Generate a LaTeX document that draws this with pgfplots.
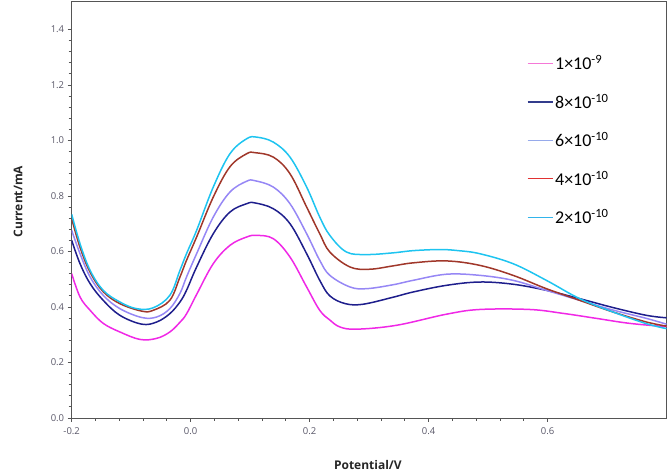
\documentclass[border=0pt]{standalone}
\usepackage{pgfplots}
\pgfplotsset{compat=1.18}
\usepackage{fontspec}
\setmainfont{Open Sans}
\newfontfamily\legfont{Carlito}
\definecolor{cMag}{RGB}{240,40,230}
\definecolor{cNavy}{RGB}{30,30,140}
\definecolor{cPur}{RGB}{150,135,245}
\definecolor{cBrn}{RGB}{160,55,42}
\definecolor{cCyan}{RGB}{30,196,240}
\definecolor{lMag}{RGB}{245,120,215}
\definecolor{lNavy}{RGB}{50,60,140}
\definecolor{lPur}{RGB}{150,170,235}
\definecolor{lBrn}{RGB}{225,50,50}
\definecolor{lCyan}{RGB}{50,180,235}
\definecolor{axgray}{RGB}{85,85,85}
\definecolor{tkgray}{RGB}{90,88,105}
\begin{document}
\begin{tikzpicture}
\begin{axis}[
  scale only axis,
  width=594.8pt, height=416.3pt,
  xmin=-0.2, xmax=0.8, ymin=0, ymax=1.5,
  xtick={-0.2,0,0.2,0.4,0.6},
  ytick={0,0.2,0.4,0.6,0.8,1.0,1.2,1.4},
  minor tick num=4,
  tick align=outside, tick pos=left,
  major tick length=4pt, minor tick length=3pt,
  axis line style={axgray, line width=0.9pt},
  every tick/.style={axgray, line width=0.8pt},
  /pgf/number format/assume math mode=true,
  /pgf/number format/.cd, fixed, fixed zerofill, precision=1, /pgfplots/.cd,
  tick label style={font=\fontsize{9.5}{10}\selectfont, text=tkgray},
  xticklabel style={yshift=-2pt},
  xlabel={\textbf{Potential/V}},
  ylabel={\textbf{Current/mA}},
  xlabel style={at={(axis description cs:0.498,-0.113)}, anchor=center, font=\fontsize{12}{13}\selectfont, text=black!85},
  ylabel style={at={(axis description cs:-0.0903,0.52)}, anchor=center, rotate=0, font=\fontsize{12}{13}\selectfont, text=black!85},
  legend style={at={(axis description cs:0.765,0.876)}, anchor=north west, fill=none, draw=none,
    font=\legfont\fontsize{18}{19}\selectfont, row sep=18.5pt, inner sep=0pt},
  legend cell align=left,
  legend image code/.code={\draw[#1] (0pt,0pt) -- (25pt,0pt);},
  every axis plot/.append style={line width=1.5pt, smooth, tension=0.6},
]
\addlegendimage{color=lMag, line width=1.2pt}
\addlegendimage{color=lNavy, line width=1.2pt}
\addlegendimage{color=lPur, line width=1.2pt}
\addlegendimage{color=lBrn, line width=1.2pt}
\addlegendimage{color=lCyan, line width=1.2pt}
\legend{1×10\textsuperscript{-9},8×10\textsuperscript{-10},6×10\textsuperscript{-10},4×10\textsuperscript{-10},2×10\textsuperscript{-10}}
\addplot[color=cMag, forget plot] coordinates {
(-0.2,0.520) (-0.186,0.436) (-0.169,0.388) (-0.147,0.341) (-0.119,0.310) (-0.085,0.283) (-0.057,0.287) (-0.035,0.310) (-0.018,0.345) (-0.007,0.375) (0.010,0.445) (0.038,0.556) (0.066,0.622) (0.094,0.652) (0.111,0.658) (0.139,0.646) (0.167,0.580) (0.195,0.472) (0.217,0.388) (0.234,0.353) (0.251,0.328) (0.279,0.320) (0.346,0.334) (0.430,0.374) (0.486,0.391) (0.570,0.391) (0.626,0.377) (0.682,0.359) (0.738,0.341) (0.800,0.329)
};
\addplot[color=cNavy, forget plot] coordinates {
(-0.2,0.640) (-0.186,0.556) (-0.169,0.484) (-0.147,0.424) (-0.119,0.370) (-0.082,0.338) (-0.057,0.346) (-0.035,0.376) (-0.018,0.418) (-0.007,0.460) (0.010,0.544) (0.038,0.664) (0.066,0.742) (0.094,0.772) (0.108,0.775) (0.139,0.754) (0.167,0.700) (0.195,0.592) (0.217,0.496) (0.234,0.440) (0.260,0.412) (0.290,0.410) (0.340,0.435) (0.374,0.454) (0.430,0.478) (0.486,0.490) (0.542,0.482) (0.598,0.460) (0.654,0.430) (0.710,0.398) (0.766,0.370) (0.800,0.361)
};
\addplot[color=cPur, forget plot] coordinates {
(-0.2,0.676) (-0.186,0.592) (-0.169,0.508) (-0.147,0.442) (-0.119,0.394) (-0.082,0.362) (-0.057,0.364) (-0.035,0.394) (-0.018,0.449) (-0.007,0.508) (0.010,0.592) (0.038,0.724) (0.066,0.814) (0.094,0.853) (0.108,0.855) (0.139,0.832) (0.167,0.772) (0.195,0.664) (0.217,0.568) (0.234,0.514) (0.268,0.472) (0.296,0.466) (0.340,0.480) (0.374,0.496) (0.430,0.518) (0.486,0.514) (0.542,0.496) (0.598,0.460) (0.654,0.424) (0.710,0.389) (0.766,0.359) (0.800,0.338)
};
\addplot[color=cBrn, forget plot] coordinates {
(-0.2,0.718) (-0.186,0.615) (-0.169,0.525) (-0.147,0.455) (-0.119,0.412) (-0.082,0.385) (-0.063,0.388) (-0.035,0.424) (-0.018,0.508) (-0.007,0.568) (0.010,0.652) (0.038,0.796) (0.066,0.905) (0.094,0.952) (0.108,0.956) (0.139,0.940) (0.167,0.880) (0.195,0.760) (0.217,0.664) (0.234,0.598) (0.268,0.544) (0.301,0.536) (0.340,0.548) (0.374,0.559) (0.430,0.566) (0.486,0.550) (0.542,0.514) (0.598,0.466) (0.654,0.424) (0.710,0.382) (0.766,0.346) (0.800,0.331)
};
\addplot[color=cCyan, forget plot] coordinates {
(-0.2,0.734) (-0.186,0.628) (-0.169,0.532) (-0.147,0.460) (-0.119,0.418) (-0.091,0.394) (-0.063,0.397) (-0.035,0.442) (-0.018,0.532) (-0.007,0.592) (0.010,0.676) (0.038,0.832) (0.066,0.952) (0.094,1.006) (0.111,1.012) (0.139,0.994) (0.167,0.940) (0.195,0.832) (0.217,0.724) (0.234,0.658) (0.262,0.598) (0.296,0.589) (0.340,0.595) (0.374,0.603) (0.419,0.607) (0.450,0.603) (0.486,0.592) (0.542,0.556) (0.598,0.496) (0.654,0.430) (0.710,0.382) (0.766,0.340) (0.800,0.322)
};
\end{axis}
\pgfresetboundingbox
\path (-71.7pt,-58pt) rectangle (597.3pt,418pt);
\end{tikzpicture}
\end{document}
